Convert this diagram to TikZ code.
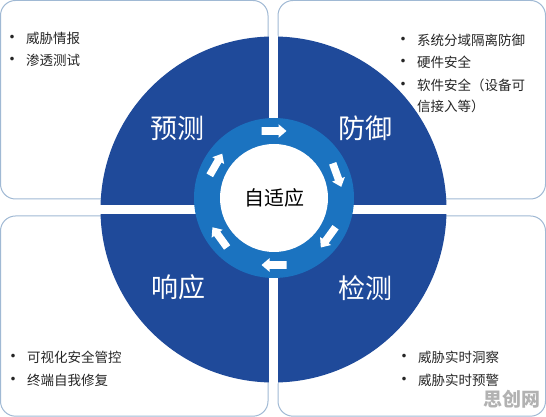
\documentclass[tikz,border=0pt]{standalone}
\usepackage{fontspec}
\setmainfont{Noto Sans CJK SC}
\usetikzlibrary{calc}
\definecolor{dblue}{RGB}{31,74,154}
\definecolor{rblue}{RGB}{27,115,192}
\definecolor{boxline}{RGB}{160,185,212}
\definecolor{txt}{RGB}{38,38,38}
\definecolor{wmgray}{RGB}{178,178,178}
\newcommand\ringarrow[1]{%
  \fill[white, shift={(rc)}, rotate=#1, shift={(67,0)}, rotate=-90]
    (-12.5,-3.8) -- (4.5,-3.8) -- (4.5,-6.8) -- (12.5,0) -- (4.5,6.8) -- (4.5,3.8) -- (-12.5,3.8) -- cycle;}
\newcommand\bul{\makebox[0pt][c]{\fontsize{17}{16}\selectfont\raisebox{-0.6pt}{•}}\hspace{14pt}}
\begin{document}
\begin{tikzpicture}[x=1pt,y=1pt,
  box/.style={draw=boxline, line width=1pt, fill=white, rounded corners=15pt},
  lbl/.style={text=white, inner sep=0pt, font=\fontsize{27}{30}\selectfont},
  item/.style={anchor=west, inner sep=0pt, text=txt, font=\fontsize{13.5}{16}\selectfont}]
\useasboundingbox (0,0) rectangle (546,417);
% quadrant boxes
\draw[box] (0.5,416.5) rectangle (268,218);
\draw[box] (278,416.5) rectangle (545.5,218);
\draw[box] (0.5,201) rectangle (268,0.8);
\draw[box] (278,201) rectangle (545.5,0.8);
% big disc
\coordinate (bc) at (273.5,207.5);
\coordinate (rc) at (274,219);
\fill[dblue] (bc) circle (173);
\begin{scope}
  \clip (bc) circle (174);
  \fill[white] (269,0) rectangle (278,417);
  \fill[white] (0,203) rectangle (546,212);
\end{scope}
% ring
\fill[rblue] (rc) circle (80);
\fill[white] (rc) circle (54);
\ringarrow{90}
\ringarrow{20}
\ringarrow{-36}
\ringarrow{-90}
\ringarrow{-144}
\ringarrow{150}
\node[inner sep=0pt, text=black, font=\fontsize{20}{22}\selectfont] (center) at (rc) {自适应};
% quadrant labels
\node[lbl] (yc) at (177,289) {预测};
\node[lbl] (fy) at (365,289) {防御};
\node[lbl] (xy) at (178,130) {响应};
\node[lbl] (jc) at (365,129) {检测};
% bullet texts
\node[item] (tl1) at (12,379) {\bul 威胁情报};
\node[item] (tl2) at (12,357) {\bul 渗透测试};
\node[item] (tr1) at (403,377) {\bul 系统分域隔离防御};
\node[item] (tr2) at (403,355) {\bul 硬件安全};
\node[item] (tr3) at (403,332) {\bul 软件安全（设备可};
\node[item] (tr4) at (417,311) {信接入等）};
\node[item] (bl1) at (13,60) {\bul 可视化安全管控};
\node[item] (bl2) at (13,37) {\bul 终端自我修复};
\node[item] (br1) at (404,60) {\bul 威胁实时洞察};
\node[item] (br2) at (404,37) {\bul 威胁实时预警};
\node[inner sep=0pt, text=wmgray, font=\fontsize{19}{20}\selectfont\bfseries] (wm) at (512,18) {思创网};
\end{tikzpicture}
\end{document}
